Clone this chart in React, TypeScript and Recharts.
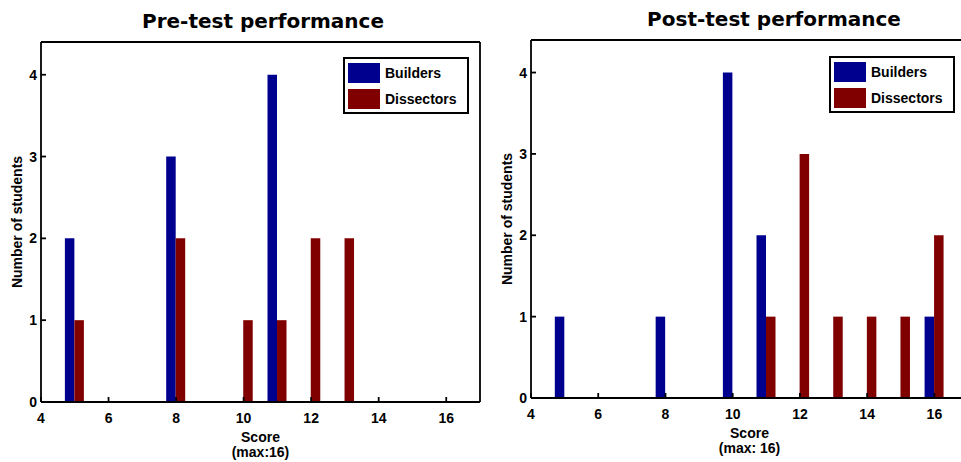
import React from 'react';
import { BarChart, Bar, XAxis, YAxis, Legend } from 'recharts';

const scores = [5, 6, 7, 8, 9, 10, 11, 12, 13, 14, 15, 16];
const preBuilders = [2, 0, 0, 3, 0, 0, 4, 0, 0, 0, 0, 0];
const preDissectors = [1, 0, 0, 2, 0, 1, 1, 2, 2, 0, 0, 0];
const postBuilders = [1, 0, 0, 1, 0, 4, 2, 0, 0, 0, 0, 1];
const postDissectors = [0, 0, 0, 0, 0, 0, 1, 3, 1, 1, 1, 2];
const xTicks = [4, 6, 8, 10, 12, 14, 16];
const yTicks = [0, 1, 2, 3, 4];
const xDomain = [4, 17];
const yDomain = [0, 4.4];
const seriesNames = ['Builders', 'Dissectors'];
const seriesColors = ['#00008F', '#800000'];
const titles = ['Pre-test performance', 'Post-test performance'];
const xLabels = [
  ['Score', '(max:16)'],
  ['Score', '(max: 16)'],
];
const yLabel = 'Number of students';

const FONT = "'Liberation Sans', Arial, Helvetica, sans-serif";
const TITLE_FONT = "'DejaVu Sans', Verdana, sans-serif";

const build = (b: number[], d: number[]) =>
  scores.map((s, i) => ({ score: s, builders: b[i], dissectors: d[i] }));

const LegendBox = (props: any) => {
  const payload = props.payload || [];
  return (
    <div
      style={{
        position: 'relative',
        width: 126,
        height: 57,
        boxSizing: 'border-box',
        border: '2px solid #000',
        background: '#fff',
        fontFamily: FONT,
        fontWeight: 'bold',
        fontSize: 14,
        color: '#000',
      }}
    >
      {payload.map((p: any, i: number) => (
        <div
          key={i}
          style={{
            position: 'absolute',
            left: 3,
            top: 4 + i * 26,
            height: 20,
            display: 'flex',
            alignItems: 'center',
          }}
        >
          <div style={{ width: 32, height: 20, background: p.color }} />
          <span style={{ marginLeft: 5, lineHeight: '20px' }}>{p.value}</span>
        </div>
      ))}
    </div>
  );
};

type PanelProps = {
  left: number;
  width: number;
  title: string;
  titleDx: number;
  data: any[];
  xLines: string[];
  marginTop: number;
  marginRight: number;
  xAxisHeight: number;
  legendLeft: number;
  legendTop: number;
  showRight: boolean;
};

const Panel = (p: PanelProps) => {
  const tickStyle = { fill: '#000', fontFamily: FONT, fontWeight: 'bold', fontSize: 14 } as any;
  const lineStyle = { stroke: '#000', strokeWidth: 1.8 };
  const rightW = p.showRight ? 1 : 0;
  return (
    <div style={{ position: 'absolute', left: p.left, top: 0, width: p.width, height: 462, overflow: 'hidden' }}>
      <BarChart
        width={p.width}
        height={462}
        data={p.data}
        margin={{ top: p.marginTop - 1, right: p.marginRight - rightW, bottom: 0, left: 0 }}
        barGap={0}
      >
        <XAxis
          dataKey="score"
          type="number"
          domain={xDomain}
          ticks={xTicks}
          height={p.xAxisHeight}
          tickSize={-5}
          tickMargin={16}
          tick={tickStyle}
          axisLine={lineStyle}
          tickLine={lineStyle}
          label={{
            content: (lp: any) => {
              const vb = lp.viewBox || {};
              const cx = vb.x + vb.width / 2;
              return (
                <text
                  x={cx}
                  y={vb.y + 40}
                  textAnchor="middle"
                  fontFamily={FONT}
                  fontWeight="bold"
                  fontSize={14}
                  fill="#000"
                >
                  <tspan x={cx}>{p.xLines[0]}</tspan>
                  <tspan x={cx} dy={14.5}>
                    {p.xLines[1]}
                  </tspan>
                </text>
              );
            },
          }}
        />
        <XAxis
          xAxisId="top"
          orientation="top"
          type="number"
          domain={xDomain}
          ticks={xTicks}
          height={1}
          tickSize={-5}
          tickMargin={0}
          tick={false}
          axisLine={lineStyle}
          tickLine={lineStyle}
          label={{
            content: (lp: any) => {
              const vb = lp.viewBox || {};
              return (
                <text
                  x={vb.x + vb.width / 2 + p.titleDx}
                  y={vb.y + vb.height - 14}
                  textAnchor="middle"
                  fontFamily={TITLE_FONT}
                  fontWeight="bold"
                  fontSize={20}
                  fill="#000"
                >
                  {p.title}
                </text>
              );
            },
          }}
        />
        <YAxis
          type="number"
          domain={yDomain}
          ticks={yTicks}
          width={41}
          tickSize={-5}
          tickMargin={9}
          tick={tickStyle}
          axisLine={lineStyle}
          tickLine={lineStyle}
          label={{
            value: yLabel,
            angle: -90,
            position: 'insideLeft',
            offset: 17,
            style: {
              textAnchor: 'middle',
              fontFamily: FONT,
              fontWeight: 'bold',
              fontSize: 14,
              fill: '#000',
            },
          }}
        />
        {p.showRight && (
          <YAxis
            yAxisId="right"
            orientation="right"
            type="number"
            domain={yDomain}
            ticks={yTicks}
            width={1}
            tickSize={-5}
            tickMargin={0}
            tick={false}
            axisLine={lineStyle}
            tickLine={lineStyle}
          />
        )}
        <Legend
          layout="horizontal"
          verticalAlign="middle"
          align="center"
          content={<LegendBox />}
          wrapperStyle={{ left: p.legendLeft, top: p.legendTop, width: 126 }}
        />
        <Bar
          dataKey="builders"
          name={seriesNames[0]}
          fill={seriesColors[0]}
          barSize={9.5}
          isAnimationActive={false}
        />
        <Bar
          dataKey="dissectors"
          name={seriesNames[1]}
          fill={seriesColors[1]}
          barSize={9.5}
          isAnimationActive={false}
        />
      </BarChart>
    </div>
  );
};

export default function App() {
  return (
    <div
      style={{
        position: 'absolute',
        left: 0,
        top: 0,
        width: 961,
        height: 462,
        overflow: 'hidden',
        background: '#fff',
      }}
    >
      <Panel
        left={0}
        width={490}
        title={titles[0]}
        titleDx={2.5}
        data={build(preBuilders, preDissectors)}
        xLines={xLabels[0]}
        marginTop={42}
        marginRight={10}
        xAxisHeight={60}
        legendLeft={343}
        legendTop={57}
        showRight={true}
      />
      <Panel
        left={490}
        width={471}
        title={titles[1]}
        titleDx={24.5}
        data={build(postBuilders, postDissectors)}
        xLines={xLabels[1]}
        marginTop={40}
        marginRight={-7}
        xAxisHeight={64}
        legendLeft={339}
        legendTop={56}
        showRight={false}
      />
    </div>
  );
}
